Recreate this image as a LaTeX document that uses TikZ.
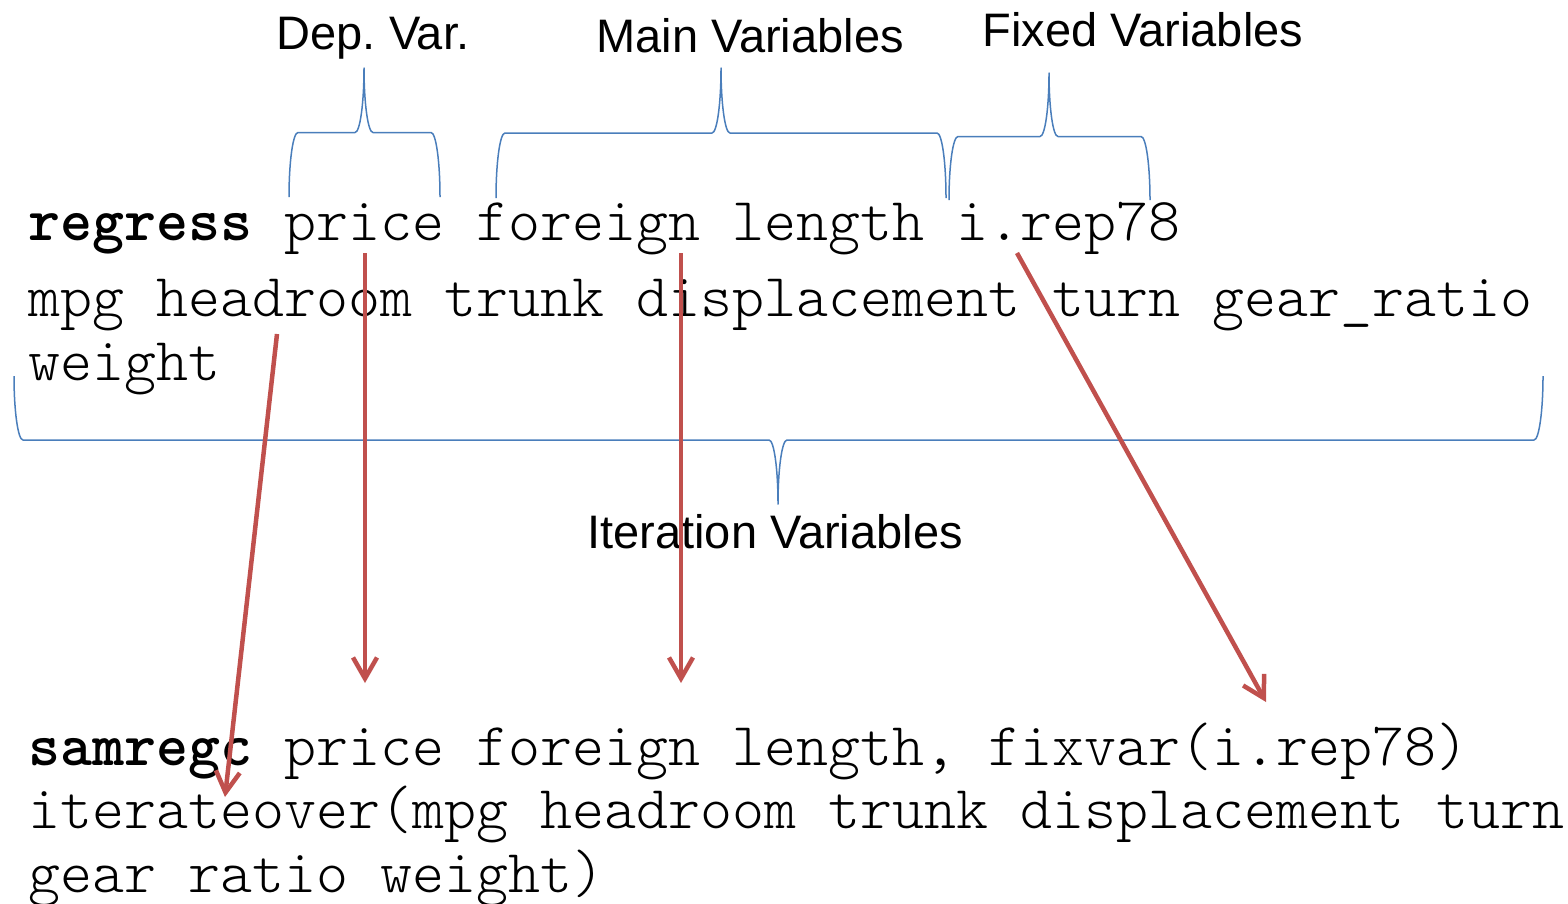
\documentclass[tikz,border=0pt]{standalone}
\usepackage{fontspec}
\setmainfont{Liberation Sans}
\usetikzlibrary{arrows.meta}
\definecolor{braceblue}{HTML}{4A7EBB}
\definecolor{arrowred}{HTML}{C0504D}
\frenchspacing
% brace opening towards the ends: (left x, tip x, right x)(end y, tip y)
\def\capbrace(#1,#2,#3)(#4,#5){\draw[bracepen] (#1,#4) .. controls (#1,{#4+0.275*(#5-#4)}) and ({#1+4},{(#4+#5)/2}) .. ({#1+9},{(#4+#5)/2})
	-- ({#2-9},{(#4+#5)/2}) .. controls ({#2-4},{(#4+#5)/2}) and (#2,{#5-0.275*(#5-#4)}) .. (#2,#5)
	.. controls (#2,{#5-0.275*(#5-#4)}) and ({#2+4},{(#4+#5)/2}) .. ({#2+9},{(#4+#5)/2})
	-- ({#3-9},{(#4+#5)/2}) .. controls ({#3-4},{(#4+#5)/2}) and (#3,{#4+0.275*(#5-#4)}) .. (#3,#4);}
\tikzset{
	bracepen/.style={draw=braceblue, line width=1.5pt, line join=round},
	carry/.style={draw=arrowred, line width=4.5pt, -{Straight Barb[length=21pt, width=24pt]}},
	code/.style={font=\ttfamily\fontseries{l}\fontsize{60.95}{72}\selectfont, anchor=base west, inner sep=0pt},
	tag/.style={font=\fontsize{47}{56}\selectfont, anchor=base, inner sep=0pt}
}
\begin{document}
\begin{tikzpicture}[x=1pt, y=-1pt]
		%%%%% START %%%%%
		\useasboundingbox (0,0) rectangle (1568,903);
		
		\node[tag] (depvar) at (373,49) {Dep. Var.};
		\node[tag] (mainvar) at (750,52) {Main Variables};
		\node[tag] (fixvar) at (1143,46) {Fixed Variables};
		
		\capbrace(289,364,440)(197,68)
		\capbrace(496,721,946)(198,68)
		\capbrace(949,1049,1150)(200,73)
		
		\node[code] (regline) at (28,240) {\textbf{regress} price foreign length i.rep78};
		\node[code] (mpgline) at (28,316) {mpg headroom trunk displacement turn gear\_ratio};
		\node[code] (weightline) at (28,380) {weight};
		
		\capbrace(14,778,1543)(376,504)
		\node[tag] (itervar) at (775,548) {Iteration Variables};
		
		\node[code] (samline) at (28,765) {\textbf{samregc} price foreign length, fixvar(i.rep78)};
		\node[code] (iterline) at (28,828) {iterateover(mpg headroom trunk displacement turn};
		\node[code] (gearline) at (28,892) {gear ratio weight)};
		
		\coordinate (hdrmtop) at (277,334);
		\coordinate (hdrmtip) at (225,797);
		\coordinate (pricetop) at (365,253);
		\coordinate (pricetip) at (365,683);
		\coordinate (lengthtop) at (681,253);
		\coordinate (lengthtip) at (681,683);
		\coordinate (reptop) at (1017,253);
		\coordinate (reptip) at (1266,702);
		
		\draw[carry] (hdrmtop) -- (hdrmtip);
		\draw[carry] (pricetop) -- (pricetip);
		\draw[carry] (lengthtop) -- (lengthtip);
		\draw[carry] (reptop) -- (reptip);
		
		%%%%% END %%%%%
	\end{tikzpicture}
\end{document}
